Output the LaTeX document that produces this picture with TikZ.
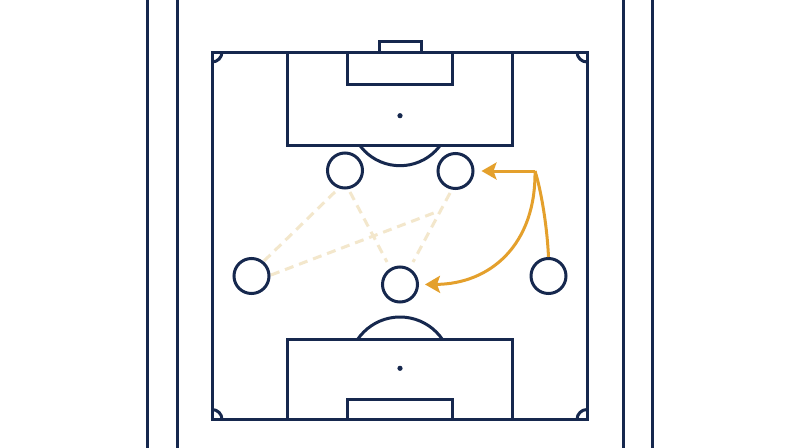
\documentclass[tikz,border=0pt]{standalone}
\usetikzlibrary{arrows.meta}
\definecolor{navy}{RGB}{22,40,78}
\definecolor{gold}{RGB}{228,160,44}
\definecolor{sand}{RGB}{243,231,204}
\begin{document}
\begin{tikzpicture}[x=1pt,y=-1pt,
  pitch/.style={draw=navy,line width=3pt},
  player/.style={circle,draw=navy,line width=3pt,minimum size=35pt,inner sep=0pt,fill=white},
  passline/.style={draw=sand,line width=3pt,dash pattern=on 9pt off 6pt},
  move/.style={draw=gold,line width=3pt},
  movearrow/.style={move,-{Stealth[length=15pt,width=17pt,inset=3pt]}}
]
\useasboundingbox[fill=white] (0,0) rectangle (800,447);
% outer lines
\draw[pitch] (147,-5) -- (147,452);
\draw[pitch] (177,-5) -- (177,452);
\draw[pitch] (623,-5) -- (623,452);
\draw[pitch] (652,-5) -- (652,452);
% field
\draw[pitch] (212,52) rectangle (587,419.5);
\begin{scope}
  \clip (212,52) rectangle (587,419.5);
  \draw[pitch] (212,52) circle[radius=10];
  \draw[pitch] (587,52) circle[radius=10];
  \draw[pitch] (212,419.5) circle[radius=10];
  \draw[pitch] (587,419.5) circle[radius=10];
\end{scope}
% top goal and boxes
\draw[pitch] (379.5,52) -- (379.5,41) -- (421,41) -- (421,52);
\draw[pitch] (287.5,52) -- (287.5,145.5) -- (512.5,145.5) -- (512.5,52);
\draw[pitch] (347.5,52) -- (347.5,84) -- (452.5,84) -- (452.5,52);
\fill[navy] (400,115.7) circle[radius=2.6];
\begin{scope}
  \clip (250,145.5) rectangle (550,200);
  \draw[pitch] (400,115.7) circle[radius=50];
\end{scope}
% bottom boxes
\draw[pitch] (287.5,419.5) -- (287.5,339.3) -- (512.5,339.3) -- (512.5,419.5);
\draw[pitch] (347.5,419.5) -- (347.5,399) -- (452.5,399) -- (452.5,419.5);
\fill[navy] (400,368.3) circle[radius=2.6];
\begin{scope}
  \clip (250,290) rectangle (550,339.3);
  \draw[pitch] (400,368.3) circle[radius=51.3];
\end{scope}
% passing lines
\coordinate (a1) at (264,261); \coordinate (a2) at (338,189);
\coordinate (b1) at (271,275); \coordinate (b2) at (439,211);
\coordinate (c1) at (450,193); \coordinate (c2) at (413,262);
\coordinate (d1) at (350,192); \coordinate (d2) at (387,262);
\draw[passline] (a1) -- (a2);
\draw[passline] (b1) -- (b2);
\draw[passline] (c1) -- (c2);
\draw[passline] (d1) -- (d2);
% players
\node[player] (tl) at (345,170.5) {};
\node[player] (tr) at (455.5,171) {};
\node[player] (lc) at (251.5,276) {};
\node[player] (rc) at (548.5,276) {};
\node[player] (bc) at (400,284.5) {};
% movements
\coordinate (split) at (535,171);
\draw[move] (rc.north) .. controls (547,225) and (541,190) .. (split);
\draw[movearrow,shorten >=7pt] (split) -- (tr.east);
\draw[movearrow,shorten >=6pt] (split) .. controls (536,245) and (490,284) .. (bc.east);
\end{tikzpicture}
\end{document}
